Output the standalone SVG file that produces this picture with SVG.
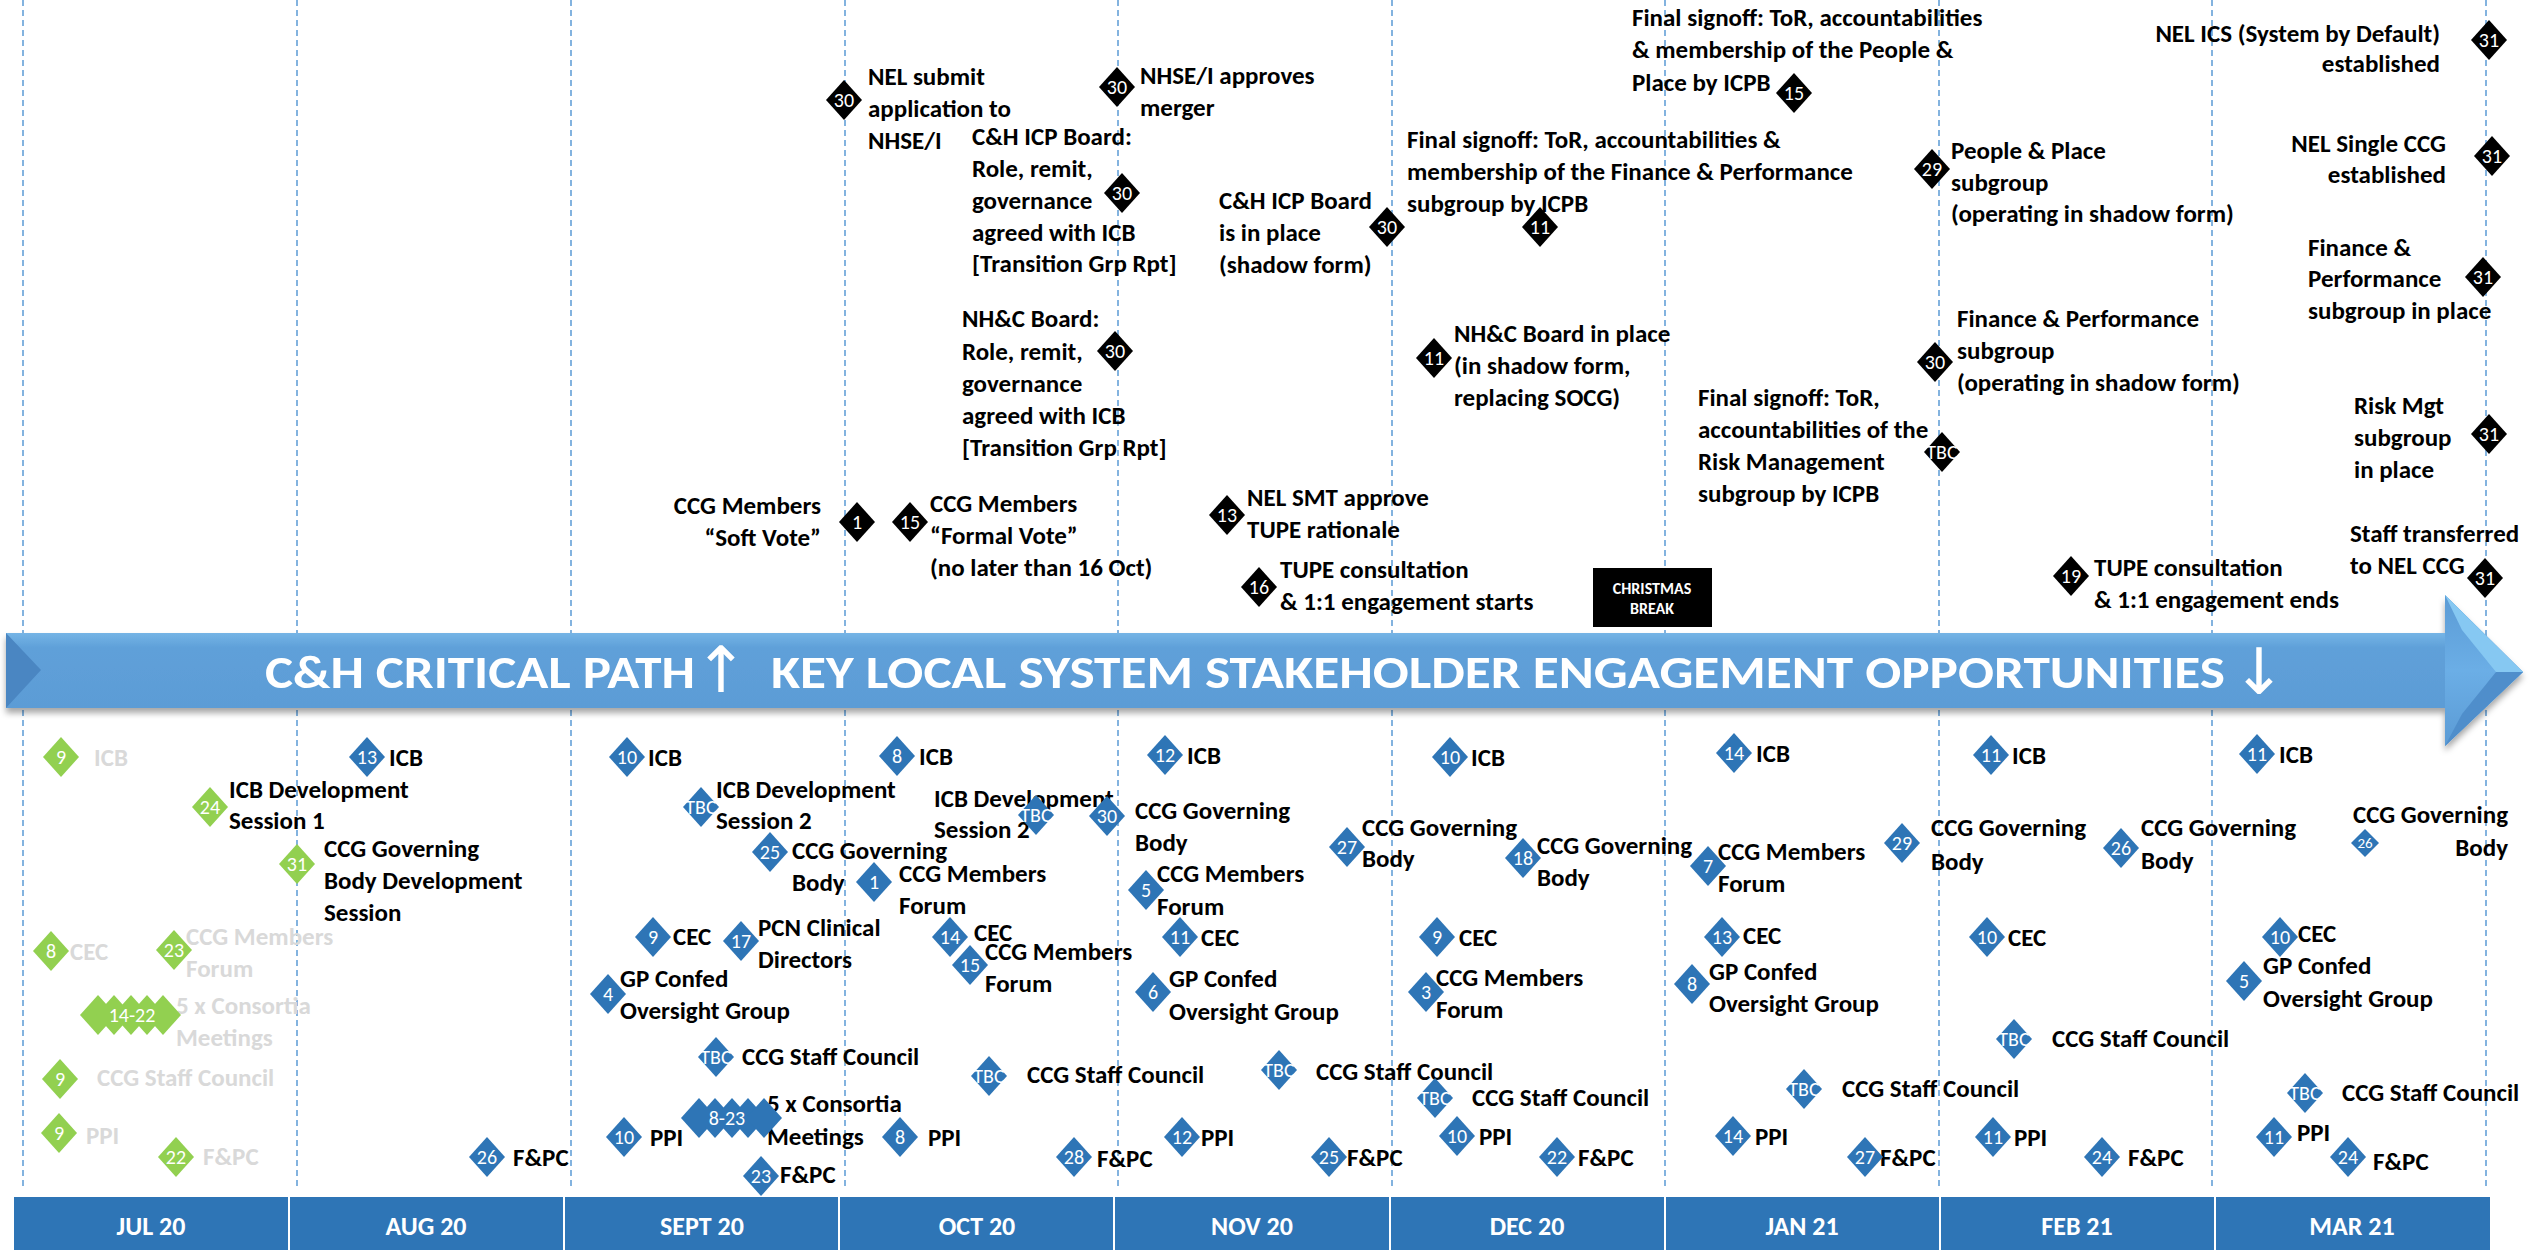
<svg xmlns="http://www.w3.org/2000/svg" width="2529" height="1250" viewBox="0 0 2529 1250">
<style>
text{font-family:Carlito,Calibri,Lato,"Liberation Sans",sans-serif;dominant-baseline:central}
tspan{dominant-baseline:central}
.t{font-size:25px;font-weight:700;fill:#000}
.g{fill:#D9D9D9}
.e{text-anchor:end}
.n{font-size:20px;fill:#fff;text-anchor:middle}
.ns{font-size:15px;fill:#fff;text-anchor:middle}
.k{fill:#000}.b{fill:#2E75B6}.gr{fill:#92D050}
#gridlines line{stroke:#5B9BD5;stroke-width:1.5;stroke-dasharray:6 4}
.m{font-size:26px;font-weight:700;fill:#fff;text-anchor:middle}
.bn{font-size:47px;font-weight:700;fill:#fff}
.ar{font-family:"DejaVu Sans",sans-serif;font-size:64px;fill:#fff;text-anchor:middle}
.xm{font-size:16px;font-weight:700;fill:#fff;text-anchor:middle}
</style>
<defs>
<path id="dm" d="M0,-20L18,0L0,20L-18,0Z"/>
<path id="dms" d="M0,-14L14,0L0,14L-14,0Z"/>
<linearGradient id="bg" x1="0" y1="0" x2="0" y2="1">
<stop offset="0" stop-color="#A8E6FF"/>
<stop offset="0.13" stop-color="#8FCDF5"/>
<stop offset="0.35" stop-color="#5FA0D9"/>
<stop offset="0.85" stop-color="#5B9BD5"/>
<stop offset="1" stop-color="#74AEE2"/>
</linearGradient>
<linearGradient id="hg" x1="0" y1="0" x2="0" y2="1">
<stop offset="0" stop-color="#5B9BD5"/>
<stop offset="0.5" stop-color="#6BAEE6"/>
<stop offset="1" stop-color="#5B9BD5"/>
</linearGradient>
<filter id="sh" x="-2%" y="-20%" width="104%" height="150%">
<feDropShadow dx="0" dy="5" stdDeviation="3" flood-color="#000" flood-opacity="0.35"/>
</filter>
</defs>
<rect width="2529" height="1250" fill="#fff"/>

<g id="gridlines">
<line x1="23" y1="0" x2="23" y2="1186"/>
<line x1="297" y1="0" x2="297" y2="1186"/>
<line x1="571" y1="0" x2="571" y2="1186"/>
<line x1="845" y1="0" x2="845" y2="1186"/>
<line x1="1118" y1="0" x2="1118" y2="1186"/>
<line x1="1392" y1="0" x2="1392" y2="1186"/>
<line x1="1665" y1="0" x2="1665" y2="1186"/>
<line x1="1939" y1="0" x2="1939" y2="1186"/>
<line x1="2212" y1="0" x2="2212" y2="1186"/>
<line x1="2486" y1="0" x2="2486" y2="1186"/>
</g>

<g id="months">
<rect x="14" y="1197" width="2476" height="53" fill="#2E75B6"/>
<g stroke="#fff" stroke-width="2">
<line x1="289" y1="1197" x2="289" y2="1250"/><line x1="564" y1="1197" x2="564" y2="1250"/><line x1="839" y1="1197" x2="839" y2="1250"/><line x1="1114" y1="1197" x2="1114" y2="1250"/><line x1="1390" y1="1197" x2="1390" y2="1250"/><line x1="1665" y1="1197" x2="1665" y2="1250"/><line x1="1940" y1="1197" x2="1940" y2="1250"/><line x1="2215" y1="1197" x2="2215" y2="1250"/>
</g>
<text class="m" x="151" y="1226">JUL 20</text>
<text class="m" x="426" y="1226">AUG 20</text>
<text class="m" x="702" y="1226">SEPT 20</text>
<text class="m" x="977" y="1226">OCT 20</text>
<text class="m" x="1252" y="1226">NOV 20</text>
<text class="m" x="1527" y="1226">DEC 20</text>
<text class="m" x="1802" y="1226">JAN 21</text>
<text class="m" x="2077" y="1226">FEB 21</text>
<text class="m" x="2352" y="1226">MAR 21</text>
</g>

<g id="banner">
<path d="M6,633H2445V595L2523,672L2445,746V708H6Z" fill="url(#bg)" filter="url(#sh)"/>
<path d="M2445,595L2523,672L2445,746Z" fill="url(#hg)"/>
<path d="M2445,595L2523,672L2496,672L2462,630Z" fill="#86C8F2"/>
<path d="M2445,746L2523,672L2496,672L2462,714Z" fill="#4F8ECB"/>
<path d="M6,633L41,670L6,708Z" fill="#4A86C2"/>
<text class="bn" x="265" y="672" textLength="430" lengthAdjust="spacingAndGlyphs">C&amp;H CRITICAL PATH</text>
<text class="ar" x="721" y="670">↑</text>
<text class="bn" x="771" y="672" textLength="1454" lengthAdjust="spacingAndGlyphs">KEY LOCAL SYSTEM STAKEHOLDER ENGAGEMENT OPPORTUNITIES</text>
<text class="ar" x="2259" y="672">↓</text>
</g>

<g id="christmas-break">
<rect x="1593" y="568" width="119" height="59" fill="#000"/>
<text class="xm" x="1652" y="588">CHRISTMAS</text>
<text class="xm" x="1652" y="608">BREAK</text>
</g>

<!-- critical path milestones -->
<g id="m-nel-submit"><text class="t"><tspan x="868" y="76">NEL submit</tspan><tspan x="868" y="108">application to</tspan><tspan x="868" y="140">NHSE/I</tspan></text><use href="#dm" x="844" y="100" class="k"/><text class="n" x="844" y="100">30</text></g>
<g id="m-nhse-approves"><text class="t"><tspan x="1140" y="75">NHSE/I approves</tspan><tspan x="1140" y="107">merger</tspan></text><use href="#dm" x="1117" y="87" class="k"/><text class="n" x="1117" y="87">30</text></g>
<g id="m-ch-icp-role"><text class="t"><tspan x="972" y="136">C&amp;H ICP Board:</tspan><tspan x="972" y="168">Role, remit,</tspan><tspan x="972" y="200">governance</tspan><tspan x="972" y="232">agreed with ICB</tspan><tspan x="972" y="263">[Transition Grp Rpt]</tspan></text><use href="#dm" x="1122" y="193" class="k"/><text class="n" x="1122" y="193">30</text></g>
<g id="m-nhc-role"><text class="t"><tspan x="962" y="318">NH&amp;C Board:</tspan><tspan x="962" y="351">Role, remit,</tspan><tspan x="962" y="383">governance</tspan><tspan x="962" y="415">agreed with ICB</tspan><tspan x="962" y="447">[Transition Grp Rpt]</tspan></text><use href="#dm" x="1115" y="351" class="k"/><text class="n" x="1115" y="351">30</text></g>
<g id="m-soft-vote"><text class="t e"><tspan x="821" y="505">CCG Members</tspan><tspan x="821" y="537">“Soft Vote”</tspan></text><use href="#dm" x="857" y="522" class="k"/><text class="n" x="857" y="522">1</text></g>
<g id="m-formal-vote"><text class="t"><tspan x="930" y="503">CCG Members</tspan><tspan x="930" y="535">“Formal Vote”</tspan><tspan x="930" y="567">(no later than 16 Oct)</tspan></text><use href="#dm" x="910" y="522" class="k"/><text class="n" x="910" y="522">15</text></g>
<g id="m-smt-tupe"><text class="t"><tspan x="1247" y="497">NEL SMT approve</tspan><tspan x="1247" y="529">TUPE rationale</tspan></text><use href="#dm" x="1227" y="515" class="k"/><text class="n" x="1227" y="515">13</text></g>
<g id="m-tupe-start"><text class="t"><tspan x="1280" y="569">TUPE consultation</tspan><tspan x="1280" y="601">&amp; 1:1 engagement starts</tspan></text><use href="#dm" x="1259" y="587" class="k"/><text class="n" x="1259" y="587">16</text></g>
<g id="m-ch-icp-place"><text class="t"><tspan x="1219" y="200">C&amp;H ICP Board</tspan><tspan x="1219" y="232">is in place</tspan><tspan x="1219" y="264">(shadow form)</tspan></text><use href="#dm" x="1387" y="227" class="k"/><text class="n" x="1387" y="227">30</text></g>
<g id="m-signoff-fp"><text class="t"><tspan x="1407" y="139">Final signoff: ToR, accountabilities &amp;</tspan><tspan x="1407" y="171">membership of the Finance &amp; Performance</tspan><tspan x="1407" y="203">subgroup by ICPB</tspan></text><use href="#dm" x="1540" y="227" class="k"/><text class="n" x="1540" y="227">11</text></g>
<g id="m-nhc-place"><text class="t"><tspan x="1454" y="333">NH&amp;C Board in place</tspan><tspan x="1454" y="365">(in shadow form,</tspan><tspan x="1454" y="397">replacing SOCG)</tspan></text><use href="#dm" x="1434" y="358" class="k"/><text class="n" x="1434" y="358">11</text></g>
<g id="m-signoff-pp"><text class="t"><tspan x="1632" y="17">Final signoff: ToR, accountabilities</tspan><tspan x="1632" y="49">&amp; membership of the People &amp;</tspan><tspan x="1632" y="82">Place by ICPB</tspan></text><use href="#dm" x="1794" y="93" class="k"/><text class="n" x="1794" y="93">15</text></g>
<g id="m-pp-shadow"><text class="t"><tspan x="1951" y="150">People &amp; Place</tspan><tspan x="1951" y="182">subgroup</tspan><tspan x="1951" y="213">(operating in shadow form)</tspan></text><use href="#dm" x="1932" y="169" class="k"/><text class="n" x="1932" y="169">29</text></g>
<g id="m-fp-shadow"><text class="t"><tspan x="1957" y="318">Finance &amp; Performance</tspan><tspan x="1957" y="350">subgroup</tspan><tspan x="1957" y="382">(operating in shadow form)</tspan></text><use href="#dm" x="1935" y="362" class="k"/><text class="n" x="1935" y="362">30</text></g>
<g id="m-signoff-risk"><text class="t"><tspan x="1698" y="397">Final signoff: ToR,</tspan><tspan x="1698" y="429">accountabilities of the</tspan><tspan x="1698" y="461">Risk Management</tspan><tspan x="1698" y="493">subgroup by ICPB</tspan></text><use href="#dm" x="1942" y="452" class="k"/><text class="n" x="1942" y="452">TBC</text></g>
<g id="m-tupe-end"><text class="t"><tspan x="2094" y="567">TUPE consultation</tspan><tspan x="2094" y="599">&amp; 1:1 engagement ends</tspan></text><use href="#dm" x="2071" y="576" class="k"/><text class="n" x="2071" y="576">19</text></g>
<g id="m-nel-ics"><text class="t e"><tspan x="2440" y="33">NEL ICS (System by Default)</tspan><tspan x="2440" y="63">established</tspan></text><use href="#dm" x="2489" y="40" class="k"/><text class="n" x="2489" y="40">31</text></g>
<g id="m-single-ccg"><text class="t e"><tspan x="2446" y="143">NEL Single CCG</tspan><tspan x="2446" y="174">established</tspan></text><use href="#dm" x="2492" y="156" class="k"/><text class="n" x="2492" y="156">31</text></g>
<g id="m-fp-place"><text class="t"><tspan x="2308" y="247">Finance &amp;</tspan><tspan x="2308" y="278">Performance</tspan><tspan x="2308" y="310">subgroup in place</tspan></text><use href="#dm" x="2483" y="277" class="k"/><text class="n" x="2483" y="277">31</text></g>
<g id="m-risk-place"><text class="t"><tspan x="2354" y="405">Risk Mgt</tspan><tspan x="2354" y="437">subgroup</tspan><tspan x="2354" y="469">in place</tspan></text><use href="#dm" x="2489" y="434" class="k"/><text class="n" x="2489" y="434">31</text></g>
<g id="m-staff-transfer"><text class="t"><tspan x="2350" y="533">Staff transferred</tspan><tspan x="2350" y="565">to NEL CCG</tspan></text><use href="#dm" x="2485" y="578" class="k"/><text class="n" x="2485" y="578">31</text></g>

<!-- July (past) engagement -->
<g id="e-jul-icb"><text class="t g" x="94" y="757">ICB</text><use href="#dm" x="61" y="757" class="gr"/><text class="n" x="61" y="757">9</text></g>
<g id="e-jul-icbdev"><text class="t"><tspan x="229" y="789">ICB Development</tspan><tspan x="229" y="820">Session 1</tspan></text><use href="#dm" x="210" y="807" class="gr"/><text class="n" x="210" y="807">24</text></g>
<g id="e-jul-govdev"><text class="t"><tspan x="324" y="848">CCG Governing</tspan><tspan x="324" y="880">Body Development</tspan><tspan x="324" y="912">Session</tspan></text><use href="#dm" x="297" y="864" class="gr"/><text class="n" x="297" y="864">31</text></g>
<g id="e-jul-cec"><text class="t g" x="70" y="951">CEC</text><use href="#dm" x="51" y="951" class="gr"/><text class="n" x="51" y="951">8</text></g>
<g id="e-jul-members"><text class="t g"><tspan x="186" y="936">CCG Members</tspan><tspan x="186" y="968">Forum</tspan></text><use href="#dm" x="174" y="950" class="gr"/><text class="n" x="174" y="950">23</text></g>
<g id="e-jul-consortia"><text class="t g"><tspan x="176" y="1005">5 x Consortia</tspan><tspan x="176" y="1037">Meetings</tspan></text><use href="#dm" x="98" y="1015" class="gr"/><use href="#dm" x="114" y="1015" class="gr"/><use href="#dm" x="131" y="1015" class="gr"/><use href="#dm" x="147" y="1015" class="gr"/><use href="#dm" x="163" y="1015" class="gr"/><text class="n" x="132" y="1015">14-22</text></g>
<g id="e-jul-staff"><text class="t g" x="97" y="1077">CCG Staff Council</text><use href="#dm" x="60" y="1079" class="gr"/><text class="n" x="60" y="1079">9</text></g>
<g id="e-jul-ppi"><text class="t g" x="86" y="1135">PPI</text><use href="#dm" x="59" y="1133" class="gr"/><text class="n" x="59" y="1133">9</text></g>
<g id="e-jul-fpc"><text class="t g" x="203" y="1156">F&amp;PC</text><use href="#dm" x="176" y="1157" class="gr"/><text class="n" x="176" y="1157">22</text></g>

<!-- engagement events -->
<g id="e-aug-icb"><text class="t" x="389" y="757">ICB</text><use href="#dm" x="367" y="757" class="b"/><text class="n" x="367" y="757">13</text></g>
<g id="e-aug-fpc"><text class="t" x="513" y="1157">F&amp;PC</text><use href="#dm" x="487" y="1157" class="b"/><text class="n" x="487" y="1157">26</text></g>
<g id="e-sep-icb"><text class="t" x="648" y="757">ICB</text><use href="#dm" x="627" y="757" class="b"/><text class="n" x="627" y="757">10</text></g>
<g id="e-sep-icbdev"><text class="t"><tspan x="716" y="789">ICB Development</tspan><tspan x="716" y="820">Session 2</tspan></text><use href="#dm" x="701" y="807" class="b"/><text class="n" x="701" y="807">TBC</text></g>
<g id="e-sep-gov"><text class="t"><tspan x="792" y="850">CCG Governing</tspan><tspan x="792" y="882">Body</tspan></text><use href="#dm" x="770" y="852" class="b"/><text class="n" x="770" y="852">25</text></g>
<g id="e-sep-cec"><text class="t" x="673" y="936">CEC</text><use href="#dm" x="653" y="937" class="b"/><text class="n" x="653" y="937">9</text></g>
<g id="e-sep-pcn"><text class="t"><tspan x="758" y="927">PCN Clinical</tspan><tspan x="758" y="959">Directors</tspan></text><use href="#dm" x="741" y="941" class="b"/><text class="n" x="741" y="941">17</text></g>
<g id="e-sep-gpconfed"><text class="t"><tspan x="620" y="978">GP Confed</tspan><tspan x="620" y="1010">Oversight Group</tspan></text><use href="#dm" x="608" y="994" class="b"/><text class="n" x="608" y="994">4</text></g>
<g id="e-sep-staff"><text class="t" x="742" y="1056">CCG Staff Council</text><use href="#dm" x="716" y="1057" class="b"/><text class="n" x="716" y="1057">TBC</text></g>
<g id="e-sep-consortia"><text class="t"><tspan x="767" y="1103">5 x Consortia</tspan><tspan x="767" y="1136">Meetings</tspan></text><use href="#dm" x="699" y="1118" class="b"/><use href="#dm" x="715" y="1118" class="b"/><use href="#dm" x="732" y="1118" class="b"/><use href="#dm" x="748" y="1118" class="b"/><use href="#dm" x="764" y="1118" class="b"/><text class="n" x="727" y="1118">8-23</text></g>
<g id="e-sep-ppi"><text class="t" x="650" y="1137">PPI</text><use href="#dm" x="624" y="1137" class="b"/><text class="n" x="624" y="1137">10</text></g>
<g id="e-sep-fpc"><text class="t" x="780" y="1174">F&amp;PC</text><use href="#dm" x="761" y="1176" class="b"/><text class="n" x="761" y="1176">23</text></g>

<g id="e-oct-icb"><text class="t" x="919" y="756">ICB</text><use href="#dm" x="897" y="756" class="b"/><text class="n" x="897" y="756">8</text></g>
<g id="e-oct-icbdev"><text class="t"><tspan x="934" y="798">ICB Development</tspan><tspan x="934" y="829">Session 2</tspan></text><use href="#dm" x="1036" y="815" class="b"/><text class="n" x="1036" y="815">TBC</text></g>
<g id="e-oct-members1"><text class="t"><tspan x="899" y="873">CCG Members</tspan><tspan x="899" y="905">Forum</tspan></text><use href="#dm" x="874" y="882" class="b"/><text class="n" x="874" y="882">1</text></g>
<g id="e-oct-cec"><text class="t" x="974" y="932">CEC</text><use href="#dm" x="950" y="937" class="b"/><text class="n" x="950" y="937">14</text></g>
<g id="e-oct-members2"><text class="t"><tspan x="985" y="951">CCG Members</tspan><tspan x="985" y="983">Forum</tspan></text><use href="#dm" x="970" y="965" class="b"/><text class="n" x="970" y="965">15</text></g>
<g id="e-oct-staff"><text class="t" x="1027" y="1074">CCG Staff Council</text><use href="#dm" x="989" y="1076" class="b"/><text class="n" x="989" y="1076">TBC</text></g>
<g id="e-oct-ppi"><text class="t" x="928" y="1137">PPI</text><use href="#dm" x="900" y="1137" class="b"/><text class="n" x="900" y="1137">8</text></g>
<g id="e-oct-fpc"><text class="t" x="1097" y="1158">F&amp;PC</text><use href="#dm" x="1074" y="1157" class="b"/><text class="n" x="1074" y="1157">28</text></g>

<g id="e-nov-icb"><text class="t" x="1187" y="755">ICB</text><use href="#dm" x="1165" y="755" class="b"/><text class="n" x="1165" y="755">12</text></g>
<g id="e-nov-gov1"><text class="t"><tspan x="1135" y="810">CCG Governing</tspan><tspan x="1135" y="842">Body</tspan></text><use href="#dm" x="1107" y="816" class="b"/><text class="n" x="1107" y="816">30</text></g>
<g id="e-nov-members"><text class="t"><tspan x="1157" y="873">CCG Members</tspan><tspan x="1157" y="906">Forum</tspan></text><use href="#dm" x="1146" y="890" class="b"/><text class="n" x="1146" y="890">5</text></g>
<g id="e-nov-cec"><text class="t" x="1201" y="937">CEC</text><use href="#dm" x="1180" y="937" class="b"/><text class="n" x="1180" y="937">11</text></g>
<g id="e-nov-gpconfed"><text class="t"><tspan x="1169" y="978">GP Confed</tspan><tspan x="1169" y="1011">Oversight Group</tspan></text><use href="#dm" x="1153" y="992" class="b"/><text class="n" x="1153" y="992">6</text></g>
<g id="e-nov-staff"><text class="t" x="1316" y="1071">CCG Staff Council</text><use href="#dm" x="1279" y="1070" class="b"/><text class="n" x="1279" y="1070">TBC</text></g>
<g id="e-nov-ppi"><text class="t" x="1201" y="1137">PPI</text><use href="#dm" x="1182" y="1137" class="b"/><text class="n" x="1182" y="1137">12</text></g>
<g id="e-nov-gov2"><text class="t"><tspan x="1362" y="827">CCG Governing</tspan><tspan x="1362" y="858">Body</tspan></text><use href="#dm" x="1347" y="847" class="b"/><text class="n" x="1347" y="847">27</text></g>
<g id="e-nov-fpc"><text class="t" x="1347" y="1157">F&amp;PC</text><use href="#dm" x="1329" y="1157" class="b"/><text class="n" x="1329" y="1157">25</text></g>

<g id="e-dec-icb"><text class="t" x="1471" y="757">ICB</text><use href="#dm" x="1450" y="757" class="b"/><text class="n" x="1450" y="757">10</text></g>
<g id="e-dec-gov"><text class="t"><tspan x="1537" y="845">CCG Governing</tspan><tspan x="1537" y="877">Body</tspan></text><use href="#dm" x="1523" y="858" class="b"/><text class="n" x="1523" y="858">18</text></g>
<g id="e-dec-cec"><text class="t" x="1459" y="937">CEC</text><use href="#dm" x="1437" y="937" class="b"/><text class="n" x="1437" y="937">9</text></g>
<g id="e-dec-members"><text class="t"><tspan x="1436" y="977">CCG Members</tspan><tspan x="1436" y="1009">Forum</tspan></text><use href="#dm" x="1426" y="992" class="b"/><text class="n" x="1426" y="992">3</text></g>
<g id="e-dec-staff"><text class="t" x="1472" y="1097">CCG Staff Council</text><use href="#dm" x="1435" y="1098" class="b"/><text class="n" x="1435" y="1098">TBC</text></g>
<g id="e-dec-ppi"><text class="t" x="1479" y="1136">PPI</text><use href="#dm" x="1457" y="1136" class="b"/><text class="n" x="1457" y="1136">10</text></g>
<g id="e-dec-fpc"><text class="t" x="1578" y="1157">F&amp;PC</text><use href="#dm" x="1557" y="1157" class="b"/><text class="n" x="1557" y="1157">22</text></g>

<g id="e-jan-icb"><text class="t" x="1756" y="753">ICB</text><use href="#dm" x="1734" y="753" class="b"/><text class="n" x="1734" y="753">14</text></g>
<g id="e-jan-members"><text class="t"><tspan x="1718" y="851">CCG Members</tspan><tspan x="1718" y="883">Forum</tspan></text><use href="#dm" x="1708" y="866" class="b"/><text class="n" x="1708" y="866">7</text></g>
<g id="e-jan-cec"><text class="t" x="1743" y="935">CEC</text><use href="#dm" x="1722" y="937" class="b"/><text class="n" x="1722" y="937">13</text></g>
<g id="e-jan-gpconfed"><text class="t"><tspan x="1709" y="971">GP Confed</tspan><tspan x="1709" y="1003">Oversight Group</tspan></text><use href="#dm" x="1692" y="984" class="b"/><text class="n" x="1692" y="984">8</text></g>
<g id="e-jan-staff"><text class="t" x="1842" y="1088">CCG Staff Council</text><use href="#dm" x="1804" y="1089" class="b"/><text class="n" x="1804" y="1089">TBC</text></g>
<g id="e-jan-ppi"><text class="t" x="1755" y="1136">PPI</text><use href="#dm" x="1733" y="1136" class="b"/><text class="n" x="1733" y="1136">14</text></g>
<g id="e-jan-fpc"><text class="t" x="1880" y="1157">F&amp;PC</text><use href="#dm" x="1865" y="1157" class="b"/><text class="n" x="1865" y="1157">27</text></g>
<g id="e-jan-gov"><text class="t"><tspan x="1931" y="827">CCG Governing</tspan><tspan x="1931" y="861">Body</tspan></text><use href="#dm" x="1902" y="843" class="b"/><text class="n" x="1902" y="843">29</text></g>

<g id="e-feb-icb"><text class="t" x="2012" y="755">ICB</text><use href="#dm" x="1991" y="755" class="b"/><text class="n" x="1991" y="755">11</text></g>
<g id="e-feb-gov"><text class="t"><tspan x="2141" y="827">CCG Governing</tspan><tspan x="2141" y="860">Body</tspan></text><use href="#dm" x="2121" y="848" class="b"/><text class="n" x="2121" y="848">26</text></g>
<g id="e-feb-cec"><text class="t" x="2008" y="937">CEC</text><use href="#dm" x="1987" y="937" class="b"/><text class="n" x="1987" y="937">10</text></g>
<g id="e-feb-staff"><text class="t" x="2052" y="1038">CCG Staff Council</text><use href="#dm" x="2014" y="1039" class="b"/><text class="n" x="2014" y="1039">TBC</text></g>
<g id="e-feb-ppi"><text class="t" x="2014" y="1137">PPI</text><use href="#dm" x="1993" y="1137" class="b"/><text class="n" x="1993" y="1137">11</text></g>
<g id="e-feb-fpc"><text class="t" x="2128" y="1157">F&amp;PC</text><use href="#dm" x="2102" y="1157" class="b"/><text class="n" x="2102" y="1157">24</text></g>

<g id="e-mar-icb"><text class="t" x="2279" y="754">ICB</text><use href="#dm" x="2257" y="754" class="b"/><text class="n" x="2257" y="754">11</text></g>
<g id="e-mar-gov"><text class="t e"><tspan x="2508" y="814">CCG Governing</tspan><tspan x="2508" y="847">Body</tspan></text><use href="#dms" x="2365" y="843" class="b"/><text class="ns" x="2365" y="843">26</text></g>
<g id="e-mar-cec"><text class="t" x="2298" y="933">CEC</text><use href="#dm" x="2280" y="937" class="b"/><text class="n" x="2280" y="937">10</text></g>
<g id="e-mar-gpconfed"><text class="t"><tspan x="2263" y="965">GP Confed</tspan><tspan x="2263" y="998">Oversight Group</tspan></text><use href="#dm" x="2244" y="981" class="b"/><text class="n" x="2244" y="981">5</text></g>
<g id="e-mar-staff"><text class="t" x="2342" y="1092">CCG Staff Council</text><use href="#dm" x="2305" y="1093" class="b"/><text class="n" x="2305" y="1093">TBC</text></g>
<g id="e-mar-ppi"><text class="t" x="2297" y="1132">PPI</text><use href="#dm" x="2274" y="1137" class="b"/><text class="n" x="2274" y="1137">11</text></g>
<g id="e-mar-fpc"><text class="t" x="2373" y="1161">F&amp;PC</text><use href="#dm" x="2348" y="1157" class="b"/><text class="n" x="2348" y="1157">24</text></g>
</svg>
